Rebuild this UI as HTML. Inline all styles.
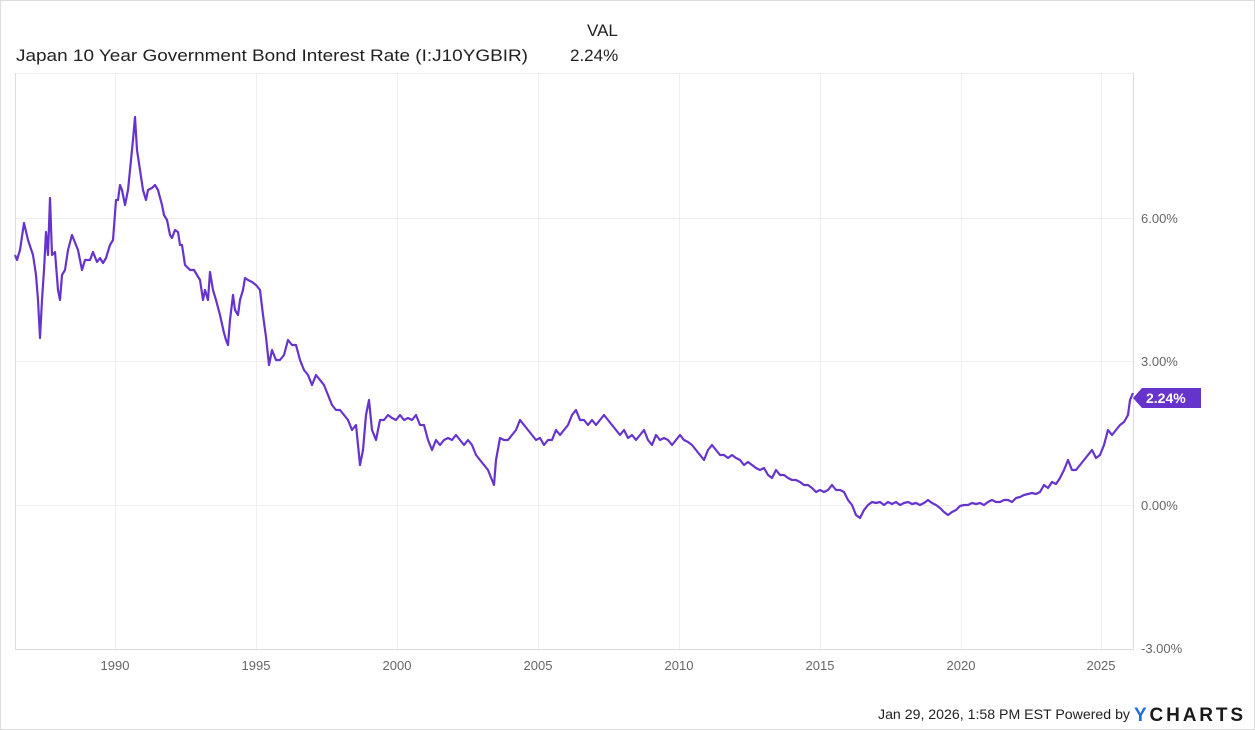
<!DOCTYPE html>
<html><head><meta charset="utf-8"><style>
html,body{margin:0;padding:0;background:#fff}
body{width:1255px;height:730px;position:relative;overflow:hidden;font-family:"Liberation Sans",sans-serif}
.frame{position:absolute;left:0;top:0;width:1253px;height:728px;border:1px solid #ddd}
</style></head><body>
<div class="frame"></div>
<svg width="1255" height="730" style="position:absolute;left:0;top:0">
<g font-family="Liberation Sans" font-size="17" fill="#222">
<text x="16" y="61" textLength="512" lengthAdjust="spacingAndGlyphs">Japan 10 Year Government Bond Interest Rate (I:J10YGBIR)</text>
<text x="587" y="36">VAL</text>
<text x="570" y="61">2.24%</text>
</g>
<g stroke="#eeeeee" stroke-width="1">
<line x1="15" y1="73.5" x2="1133" y2="73.5"/>
<line x1="15" y1="218.5" x2="1133" y2="218.5"/>
<line x1="15" y1="361.5" x2="1133" y2="361.5"/>
<line x1="15" y1="505.5" x2="1133" y2="505.5"/>
<line x1="115.5" y1="73" x2="115.5" y2="650"/>
<line x1="256.5" y1="73" x2="256.5" y2="650"/>
<line x1="397.5" y1="73" x2="397.5" y2="650"/>
<line x1="538.5" y1="73" x2="538.5" y2="650"/>
<line x1="679.5" y1="73" x2="679.5" y2="650"/>
<line x1="820.5" y1="73" x2="820.5" y2="650"/>
<line x1="961.5" y1="73" x2="961.5" y2="650"/>
<line x1="1101.5" y1="73" x2="1101.5" y2="650"/>
</g>
<g stroke="#dddddd" stroke-width="1">
<line x1="15.5" y1="73" x2="15.5" y2="650"/>
<line x1="1133.5" y1="73" x2="1133.5" y2="650"/>
<line x1="15" y1="649.5" x2="1133" y2="649.5"/>
</g>
<polyline fill="none" stroke="#6633cc" stroke-width="2.2" stroke-linejoin="round" points="
15,255 17,260 20,250 24,223 28,240 33,255 36,275 38,300 40,338 42,300 44,270 46,232 48,255 50,198 52,255 55,252 58,290 60,300 62,275 65,270 68,250 72,235 74,240 78,250 82,270 85,260 90,260 93,252 97,262 100,258 103,263 106,258 110,245 113,240 116,200 118,200 120,185 122,190 125,205 128,190 131,160 133,140 135,117 137,150 140,170 143,190 146,200 148,190 152,188 155,185 158,190 162,205 164,215 167,220 170,235 172,238 175,230 178,232 180,245 182,245 185,265 190,270 194,270 197,275 200,280 203,300 205,290 208,300 210,272 213,290 216,300 220,315 224,333 226,340 228,345 230,320 233,295 235,310 238,315 240,300 243,290 245,278 248,280 252,282 256,285 260,290 263,315 266,337 269,365 272,350 276,360 280,360 284,355 288,340 292,345 296,345 300,360 304,370 308,375 312,385 316,375 320,380 324,385 328,395 332,405 336,410 340,410 344,415 348,420 352,430 356,425 360,465 363,450 366,415 369,400 372,430 376,440 380,420 384,420 388,415 392,418 396,420 400,415 404,420 408,418 412,420 416,415 420,425 424,425 428,440 432,450 436,440 440,445 444,440 448,438 452,440 456,435 460,440 464,445 468,440 472,445 476,455 480,460 484,465 488,470 492,480 494,485 496,460 500,438 504,440 508,440 512,435 516,430 520,420 524,425 528,430 532,435 536,440 540,438 544,445 548,440 552,440 556,430 560,435 564,430 568,425 572,415 576,410 580,420 584,420 588,425 592,420 596,425 600,420 604,415 608,420 612,425 616,430 620,435 624,430 628,438 632,435 636,440 640,435 644,430 648,440 652,445 656,435 660,440 664,438 668,440 672,445 676,440 680,435 684,440 688,442 692,445 696,450 700,455 704,460 708,450 712,445 716,450 720,455 724,455 728,458 732,455 736,458 740,460 744,465 748,462 752,465 756,468 760,470 764,468 768,475 772,478 776,470 780,475 784,475 788,478 792,480 796,480 800,482 804,485 808,485 812,488 816,492 820,490 824,492 828,490 832,485 836,490 840,490 844,492 848,500 852,505 856,515 860,518 864,510 868,505 872,502 876,503 880,502 884,505 888,502 892,504 896,502 900,505 904,503 908,502 912,504 916,503 920,505 924,503 928,500 932,503 936,505 940,508 944,512 948,515 952,512 956,510 960,506 964,505 968,505 972,503 976,504 980,503 984,505 988,502 992,500 996,502 1000,502 1004,500 1008,500 1012,502 1016,498 1020,497 1024,495 1028,494 1032,493 1036,494 1040,492 1044,485 1048,488 1052,482 1056,484 1060,478 1064,470 1068,460 1072,470 1076,470 1080,465 1084,460 1088,455 1092,450 1096,458 1100,455 1104,445 1108,430 1112,435 1116,430 1120,425 1124,422 1128,415 1130,400 1133,393"/>
<polygon points="1133,398 1142,388 1201,388 1201,408 1142,408" fill="#6633cc"/>
<text x="1146" y="403" font-family="Liberation Sans" font-weight="bold" font-size="14" fill="#fff">2.24%</text>
<g font-family="Liberation Sans" font-size="13" fill="#666">
<text x="1141" y="223">6.00%</text>
<text x="1141" y="366">3.00%</text>
<text x="1141" y="510">0.00%</text>
<text x="1141" y="653">-3.00%</text>
<g text-anchor="middle">
<text x="115" y="670">1990</text>
<text x="256" y="670">1995</text>
<text x="397" y="670">2000</text>
<text x="538" y="670">2005</text>
<text x="679" y="670">2010</text>
<text x="820" y="670">2015</text>
<text x="961" y="670">2020</text>
<text x="1101" y="670">2025</text>
</g>
</g>
<text x="878" y="719" font-family="Liberation Sans" font-size="14" fill="#222" textLength="252" lengthAdjust="spacingAndGlyphs">Jan 29, 2026, 1:58 PM EST Powered by</text>
<text x="1134" y="721" font-family="Liberation Sans" font-weight="bold" font-size="19" fill="#1a1a1a" textLength="109" lengthAdjust="spacing"><tspan fill="#1e6fd9">Y</tspan>CHARTS</text>
</svg>
</body></html>
